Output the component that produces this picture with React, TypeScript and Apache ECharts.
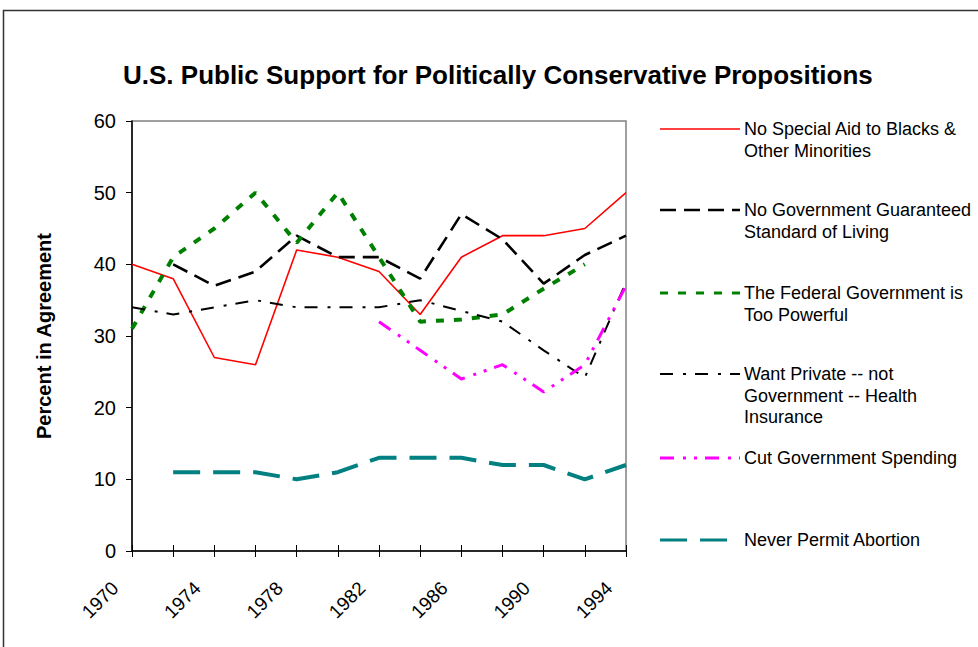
import React, { useEffect, useRef } from "react";
import * as echarts from "echarts";

const years = ["1970", "1972", "1974", "1976", "1978", "1980", "1982", "1984", "1986", "1988", "1990", "1992", "1994"];

const noSpecialAid = [40, 38, 27, 26, 42, 41, 39, 33, 41, 44, 44, 45, 50];
const noGuaranteedLiving = [null, 40, 37, 39, 44, 41, 41, 38, 47, 43.5, 37.3, 41.3, 44];
const fedTooPowerful = [31, 41, 45, 50, 43, 50, 41, 32, 32.3, 33, 36.6, 40, null];
const privateHealth = [34, 33, 34, 35, 34, 34, 34, 35, 33.5, 32, 28, 24.2, 37.5];
const cutSpending = [null, null, null, null, null, null, 32, 28, 24, 26, 22.2, 26, 37];
const neverAbortion = [null, 11, 11, 11, 10, 11, 13, 13, 13, 12, 12, 10, 12];

const seriesNames = [
  "No Special Aid to Blacks & Other Minorities",
  "No Government Guaranteed Standard of Living",
  "The Federal Government is Too Powerful",
  "Want Private -- not Government -- Health Insurance",
  "Cut Government Spending",
  "Never Permit Abortion",
];

const legendLines = [
  ["No Special Aid to Blacks &", "Other Minorities"],
  ["No Government Guaranteed", "Standard of Living"],
  ["The Federal Government is", "Too Powerful"],
  ["Want Private -- not", "Government -- Health", "Insurance"],
  ["Cut Government Spending"],
  ["Never Permit Abortion"],
];

const FONT = "'Liberation Sans', Arial, sans-serif";

const styles = [
  { color: "#FF0000", width: 1.6, dash: "solid" as any },
  { color: "#000000", width: 2.6, dash: [16, 8] },
  { color: "#008000", width: 4, dash: [8, 10] },
  { color: "#000000", width: 2, dash: [13, 10, 3, 9] },
  { color: "#FF00FF", width: 3, dash: [14, 9, 3, 8, 3, 8] },
  { color: "#008080", width: 4, dash: [27, 13] },
];

const legendY = [129, 210, 293, 374, 458, 540];

export default function App() {
  const ref = useRef<HTMLDivElement>(null);
  useEffect(() => {
    if (!ref.current) return;
    const chart = echarts.init(ref.current, null, { renderer: "svg" });
    const data = [noSpecialAid, noGuaranteedLiving, fedTooPowerful, privateHealth, cutSpending, neverAbortion];

    const graphics: any[] = [
      {
        type: "rect",
        shape: { x: 3.5, y: 10.5, width: 1100, height: 800 },
        style: { fill: "none", stroke: "#333", lineWidth: 1.5 },
        silent: true,
      },
    ];
    legendLines.forEach((lines, i) => {
      const s = styles[i];
      graphics.push({
        type: "line",
        shape: { x1: 660, y1: legendY[i], x2: 740, y2: legendY[i] },
        style: {
          stroke: s.color,
          lineWidth: i === 0 ? 1.6 : Math.min(s.width, 3),
          lineDash: s.dash === "solid" ? null : s.dash,
        },
      });
      lines.forEach((t, j) => {
        graphics.push({
          type: "text",
          x: 744,
          y: legendY[i] + j * 21.7,
          style: {
            text: t,
            fill: "#000",
            font: `18px ${FONT}`,
            textAlign: "left",
            textVerticalAlign: "middle",
          },
        });
      });
    });

    chart.setOption({
      animation: false,
      backgroundColor: "#ffffff",
      title: {
        text: "U.S. Public Support for Politically Conservative Propositions",
        left: 118,
        top: 57,
        textStyle: { fontFamily: FONT, fontWeight: "bold", fontSize: 26, color: "#000" },
      },
      grid: {
        left: 132,
        top: 121,
        width: 494,
        height: 430,
        show: true,
        borderColor: "#808080",
        borderWidth: 1.5,
        containLabel: false,
      },
      xAxis: [
        {
          type: "category",
          data: years,
          boundaryGap: false,
          axisLine: { lineStyle: { color: "#000", width: 1.5 } },
          axisTick: { show: true, interval: 0, length: 6, lineStyle: { color: "#000" } },
          axisLabel: {
            interval: 1,
            rotate: 45,
            margin: 17,
            padding: [0, 24, 0, 0],
            color: "#000",
            fontFamily: FONT,
            fontSize: 19,
          },
          splitLine: { show: false },
        },
        {
          type: "category",
          data: years,
          position: "bottom",
          boundaryGap: false,
          axisLine: { show: false },
          axisTick: { show: true, inside: true, interval: 0, length: 6, lineStyle: { color: "#000" } },
          axisLabel: { show: false },
          splitLine: { show: false },
        },
      ],
      yAxis: {
        type: "value",
        min: 0,
        max: 60,
        interval: 10,
        name: "Percent in Agreement",
        nameLocation: "middle",
        nameRotate: 90,
        nameGap: 78,
        nameTextStyle: { fontFamily: FONT, fontWeight: "bold", fontSize: 20, color: "#000" },
        axisLine: { show: true, lineStyle: { color: "#000", width: 1.5 } },
        axisTick: { show: true, length: 6, lineStyle: { color: "#000" } },
        axisLabel: { margin: 16, color: "#000", fontFamily: FONT, fontSize: 20 },
        splitLine: { show: false },
      },
      series: data.map((d, i) => ({
        name: seriesNames[i],
        type: "line",
        data: d,
        xAxisIndex: 0,
        showSymbol: false,
        connectNulls: false,
        lineStyle: {
          color: styles[i].color,
          width: styles[i].width,
          type: styles[i].dash,
        },
        itemStyle: { color: styles[i].color },
      })),
      graphic: graphics,
    });
    return () => chart.dispose();
  }, []);

  return (
    <div
      ref={ref}
      style={{ position: "fixed", left: 0, top: 0, width: 978, height: 647, background: "#fff" }}
    />
  );
}
